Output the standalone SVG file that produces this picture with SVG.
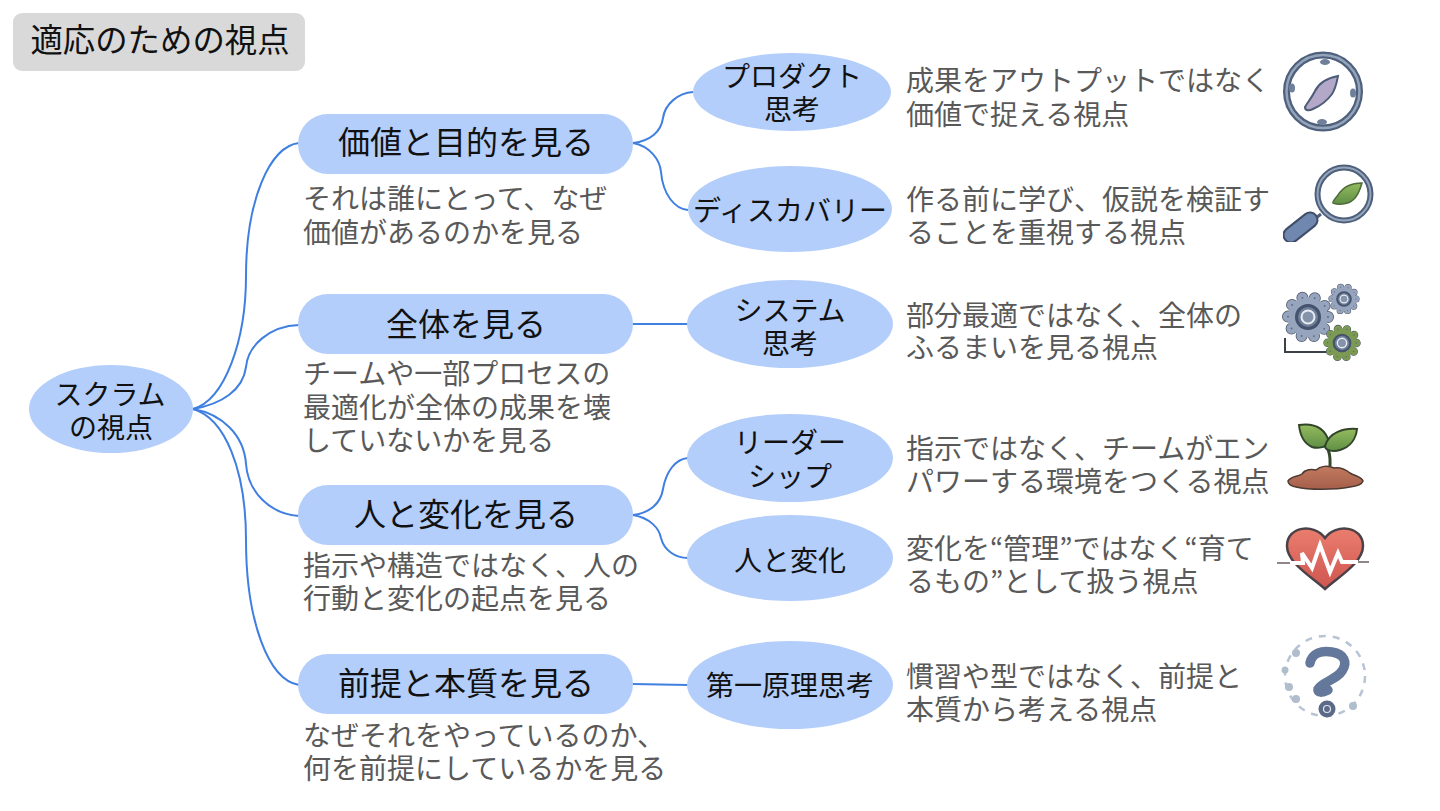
<svg xmlns="http://www.w3.org/2000/svg" width="1440" height="811" viewBox="0 0 1440 811">
<style>
text{font-family:"Noto Sans CJK JP","Noto Sans",sans-serif;text-anchor:middle}
.n{fill:#b3cefb}
.t0{font-size:28px;fill:#111}
.t1{font-size:32px;fill:#111}
.t2{font-size:28px;fill:#111}
.d{font-size:28px;fill:#595959;text-anchor:start}
.c{fill:none;stroke:#3f7fe0;stroke-width:2}
.ic{filter:url(#soft)}
</style>
<defs>
<filter id="soft" x="-10%" y="-10%" width="120%" height="120%"><feGaussianBlur stdDeviation="0.45"/></filter>
<linearGradient id="gg" x1="0" y1="0" x2="0" y2="1"><stop offset="0" stop-color="#94bb5e"/><stop offset="1" stop-color="#5f8f45"/></linearGradient>
<linearGradient id="gh" x1="0" y1="0" x2="0" y2="1"><stop offset="0" stop-color="#ea7d6e"/><stop offset="1" stop-color="#cf5650"/></linearGradient>
<linearGradient id="gs" x1="0" y1="0" x2="0" y2="1"><stop offset="0" stop-color="#c27a60"/><stop offset="1" stop-color="#a55f4b"/></linearGradient>
<g id="gear">
<circle r="20" fill="none" stroke="#4a5568" stroke-width="12" stroke-linecap="round" stroke-dasharray="0 12.566"/>
<circle r="20" fill="none" stroke="currentColor" stroke-width="10.500" stroke-linecap="round" stroke-dasharray="0 12.566"/>
<circle r="20" fill="currentColor"/>
<circle r="20" fill="none" stroke="#5a6578" stroke-width="1.800" stroke-linecap="round" stroke-dasharray="0 12.566"/>
<circle r="11.500" fill="#6f7f9a" stroke="#44526c" stroke-width="3"/>
<circle r="6.500" fill="#8593aa" stroke="#e8ecf2" stroke-width="2"/>
</g>
</defs>
<g id="title"><rect x="13" y="13" width="292" height="58" rx="9" fill="#d9d9d9"/><text x="160" y="52" font-size="32.400" fill="#111">適応のための視点</text></g>
<g id="connectors">
<path class="c" d="M193 409C225 400 246 340 246 276C246 200 270 146 299 143"/>
<path class="c" d="M193 409C222 404 243 390 246 367C248 345 270 326 299 325"/>
<path class="c" d="M193 409C222 414 244 435 246 464C248 492 270 514 299 516"/>
<path class="c" d="M193 409C225 418 246 470 246 540C246 620 268 680 299 685"/>
<path class="c" d="M633 143C650 141 661 132 663 118C665 104 678 93 693 92"/>
<path class="c" d="M633 143C650 146 660 160 661 172C663 195 675 209 688 210"/>
<path class="c" d="M633 324H688"/>
<path class="c" d="M633 515C650 513 661 503 663 489C666 472 675 459 688 458"/>
<path class="c" d="M633 515C650 518 659 528 661 538C664 550 675 558 688 558"/>
<path class="c" d="M633 684L688 685"/>
</g>
<g id="root"><ellipse class="n" cx="111" cy="409" rx="82" ry="44"/><text class="t0" x="110" y="405">スクラム<tspan x="111" dy="33">の視点</tspan></text></g>
<g id="n1"><rect class="n" x="298" y="114" width="335" height="60" rx="30"/><text class="t1" x="466" y="154">価値と目的を見る</text></g>
<g id="n2"><rect class="n" x="298" y="294" width="335" height="60" rx="30"/><text class="t1" x="466" y="336">全体を見る</text></g>
<g id="n3"><rect class="n" x="298" y="485" width="335" height="60" rx="30"/><text class="t1" x="466" y="526">人と変化を見る</text></g>
<g id="n4"><rect class="n" x="298" y="654" width="335" height="60" rx="30"/><text class="t1" x="466" y="695">前提と本質を見る</text></g>
<g id="d1"><text class="d" x="303" y="209">それは誰にとって、なぜ<tspan x="303" dy="33.500">価値があるのかを見る</tspan></text></g>
<g id="d2"><text class="d" x="303" y="383.500">チームや一部プロセスの<tspan x="303" dy="34">最適化が全体の成果を壊</tspan><tspan x="303" dy="33">していないかを見る</tspan></text></g>
<g id="d3"><text class="d" x="303" y="576">指示や構造ではなく、人の<tspan x="303" dy="33">行動と変化の起点を見る</tspan></text></g>
<g id="d4"><text class="d" x="303" y="746">なぜそれをやっているのか、<tspan x="303" dy="33">何を前提にしているかを見る</tspan></text></g>
<g id="s1"><ellipse class="n" cx="792" cy="92" rx="99" ry="39"/><text class="t2" x="792" y="87">プロダクト<tspan x="792" dy="33">思考</tspan></text></g>
<g id="s2"><ellipse class="n" cx="790" cy="209" rx="102" ry="43"/><text class="t2" x="790" y="221">ディスカバリー</text></g>
<g id="s3"><ellipse class="n" cx="790" cy="324" rx="103" ry="44"/><text class="t2" x="790" y="320.500">システム<tspan x="790" dy="33">思考</tspan></text></g>
<g id="s4"><ellipse class="n" cx="790" cy="458" rx="103" ry="44"/><text class="t2" x="790" y="452.500">リーダー<tspan x="790" dy="34">シップ</tspan></text></g>
<g id="s5"><ellipse class="n" cx="790" cy="558" rx="103" ry="43"/><text class="t2" x="790" y="571">人と変化</text></g>
<g id="s6"><ellipse class="n" cx="790" cy="685" rx="103" ry="44"/><text class="t2" x="790" y="696">第一原理思考</text></g>
<g id="e1"><text class="d" x="906" y="91">成果をアウトプットではなく<tspan x="906" dy="33.500">価値で捉える視点</tspan></text></g>
<g id="e2"><text class="d" x="906" y="210">作る前に学び、仮説を検証す<tspan x="906" dy="33">ることを重視する視点</tspan></text></g>
<g id="e3"><text class="d" x="906" y="325.500">部分最適ではなく、全体の<tspan x="906" dy="32.500">ふるまいを見る視点</tspan></text></g>
<g id="e4"><text class="d" x="906" y="458.500">指示ではなく、チームがエン<tspan x="906" dy="33">パワーする環境をつくる視点</tspan></text></g>
<g id="e5"><text class="d" x="906" y="559">変化を“管理”ではなく“育て<tspan x="906" dy="32.500">るもの”として扱う視点</tspan></text></g>
<g id="e6"><text class="d" x="906" y="686.500">慣習や型ではなく、前提と<tspan x="906" dy="33">本質から考える視点</tspan></text></g>
<g id="icon-compass" class="ic">
<circle cx="1323" cy="91.500" r="36.500" fill="#fff" stroke="#4f607c" stroke-width="7"/>
<circle cx="1323" cy="91.500" r="36.500" fill="none" stroke="#94a4bb" stroke-width="2.500"/>
<g fill="#6f809b"><ellipse cx="1325" cy="62" rx="5" ry="3"/><ellipse cx="1322" cy="122" rx="5" ry="3"/><ellipse cx="1292" cy="88" rx="3" ry="4.500"/><ellipse cx="1353" cy="93" rx="3" ry="4.500"/></g>
<path d="M1338 76C1327 78 1319 83 1315 91C1311 99 1307 103 1305 107C1305 111 1309 111 1313 109C1320 106 1327 101 1332 94C1336 88 1337 81 1338 76Z" fill="#b3a8c8" stroke="#4d5b78" stroke-width="2"/>
</g>
<g id="icon-magnifier" class="ic">
<circle cx="1344" cy="194" r="26.500" fill="#fff" stroke="#4f607c" stroke-width="6"/>
<circle cx="1344" cy="194" r="26.500" fill="none" stroke="#94a4bb" stroke-width="2"/>
<path d="M1321 214L1316 218" stroke="#4f607c" stroke-width="3"/>
<path d="M1362 183C1351 183 1343 187 1338 195C1335 199 1332 202 1333 203C1338 205 1347 205 1353 200C1358 196 1360 190 1362 183Z" fill="url(#gg)" stroke="#4f6b3b" stroke-width="1.500"/>
<path d="M1291 235L1310 220" stroke="#414e68" stroke-width="17" stroke-linecap="round"/>
<path d="M1291 235L1310 220" stroke="#6f88b0" stroke-width="13" stroke-linecap="round"/>
</g>
<g id="icon-gears" class="ic">
<path d="M1285 338V352H1328" fill="none" stroke="#3b4048" stroke-width="2"/>
<use href="#gear" transform="translate(1308 317)" color="#97a4bd"/>
<use href="#gear" transform="translate(1344 299) scale(.6)" color="#97a4bd"/>
<use href="#gear" transform="translate(1342 343) scale(.72)" color="#7b9a53"/>
</g>
<g id="icon-sprout" class="ic">
<path d="M1327 447C1331 455 1330 460 1330 466" fill="none" stroke="#344a2b" stroke-width="3"/>
<path d="M1299 425C1314 423 1325 428 1329 442C1328 447 1318 449 1312 447C1303 443 1300 435 1299 425Z" fill="url(#gg)" stroke="#32452a" stroke-width="2"/>
<path d="M1357 429C1344 428 1329 432 1325 446C1325 451 1334 452 1340 450C1350 447 1356 439 1357 429Z" fill="url(#gg)" stroke="#32452a" stroke-width="2"/>
<path d="M1288 481C1291 476 1298 477 1302 474C1305 469 1312 469 1316 470C1320 466 1328 465 1334 468C1340 467 1346 470 1350 473C1355 476 1362 477 1363 481C1362 484 1358 486 1350 487C1335 490 1308 490 1296 487C1291 486 1288 484 1288 481Z" fill="url(#gs)" stroke="#4d3a33" stroke-width="1.500"/>
</g>
<g id="icon-heart" class="ic">
<path d="M1325 589C1312 577 1287 563 1287 546C1287 526 1314 523 1325 538C1336 523 1363 526 1363 546C1363 563 1338 577 1325 589Z" fill="url(#gh)" stroke="#4c4348" stroke-width="2.500"/>
<path d="M1277 563H1303M1346 562H1369" fill="none" stroke="#6b5f5f" stroke-width="1.500"/>
<path d="M1290 563H1303L1302 553L1312 568L1320 545L1330 572L1338 553L1342 562H1358" fill="none" stroke="#fff" stroke-width="4"/>
</g>
<g id="icon-question" class="ic">
<circle cx="1325" cy="676" r="40" fill="none" stroke="#b7c4d4" stroke-width="2.500" stroke-dasharray="7 7"/>
<g fill="#b0bdcd"><circle cx="1296" cy="653" r="4"/><circle cx="1285" cy="670" r="3.500"/><circle cx="1289" cy="687" r="4"/><circle cx="1296" cy="699" r="4"/><circle cx="1353" cy="706" r="4"/></g>
<path d="M1310 663C1312 653 1322 650 1332 652C1344 654 1348 662 1342 671C1336 680 1322 682 1318 689C1317 693 1322 693 1328 690" fill="none" stroke="#64789a" stroke-width="9.500" stroke-linecap="round"/>
<circle cx="1327" cy="709" r="8.500" fill="#5c6b88"/><circle cx="1327" cy="709" r="3.500" fill="none" stroke="#dfe5ee" stroke-width="1.200"/>
</g>
</svg>
